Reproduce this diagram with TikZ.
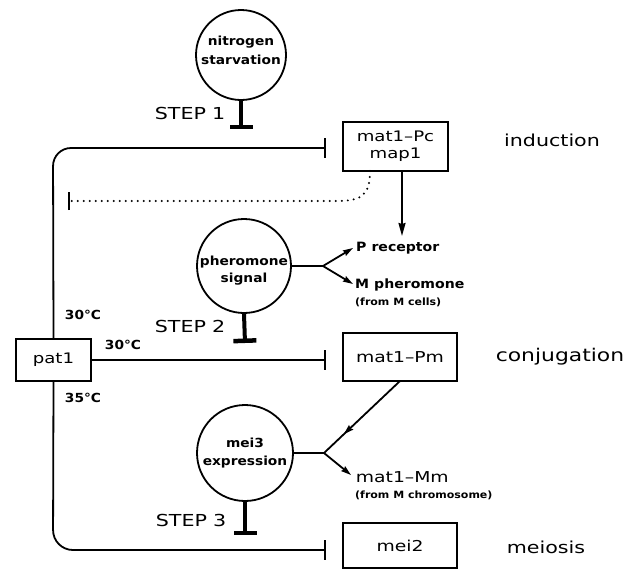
\documentclass[tikz,border=0pt]{standalone}
\usepackage{fontspec}
\setmainfont{DejaVu Sans}
\newfontfamily\rfam{DejaVu Sans}[FakeStretch=1.25]
\newfontfamily\bfam{DejaVu Sans}[FakeStretch=1.1]
\usetikzlibrary{arrows.meta,calc}
\tikzset{
  ln/.style={line width=1.8pt},
  boxn/.style={draw, line width=1.8pt, inner sep=0pt, align=center,
    font=\rfam\fontsize{14.5}{17}\selectfont},
  circn/.style={draw, circle, line width=1.8pt, inner sep=0pt},
  ctext/.style={align=center, inner sep=0pt, font=\bfam\bfseries\fontsize{12.5}{19}\selectfont},
  big/.style={inner sep=0pt, font=\rfam\fontsize{16.5}{18}\selectfont},
  stepl/.style={inner sep=0pt, font=\rfam\fontsize{16.5}{18}\selectfont},
  small/.style={inner sep=0pt, anchor=west, font=\bfam\bfseries\fontsize{12.8}{14}\selectfont},
  tiny/.style={inner sep=0pt, anchor=west, font=\bfam\bfseries\fontsize{10}{11}\selectfont},
  deg/.style={inner sep=0pt, font=\bfam\bfseries\fontsize{12.5}{13}\selectfont},
  inh/.style={ln, -{Bar[width=20pt, line width=1.8pt]}},
  stepbar/.style={line width=4pt, -{Bar[width=23pt, line width=4.5pt]}},
  act/.style={ln, -{Stealth[length=13pt, width=7pt, inset=1pt]}},
  acts/.style={ln, -{Stealth[length=10pt, width=6pt, inset=1pt]}},
}
\begin{document}
\begin{tikzpicture}[x=1pt, y=-1pt]
\useasboundingbox (0,0) rectangle (642,571);

% circles
\node[circn, minimum size=90pt] (ns) at (241,55) {};
\node[ctext] (nst) at (241,50) {nitrogen\\starvation};
\node[circn, minimum size=94pt] (ph) at (244,266) {};
\node[ctext] (pht) at (244,271) {pheromone\\[-2pt]signal};
\node[circn, minimum size=96pt] (m3) at (245,453) {};
\node[ctext] (m3t) at (245,453) {mei3\\[-1pt]expression};

% boxes
\node[boxn, minimum width=105pt, minimum height=49pt] (pc) at (395.5,146.5) {mat1–Pc\\map1};
\node[boxn, minimum width=114pt, minimum height=48pt, font=\rfam\fontsize{15}{17}\selectfont] (pm) at (400,357) {mat1–Pm};
\node[boxn, minimum width=114pt, minimum height=45pt, font=\rfam\fontsize{15}{17}\selectfont] (m2) at (400,545.5) {mei2};
\node[boxn, minimum width=75pt, minimum height=42pt] (pat) at (53.5,360) {pat1};

% right labels
\node[big] (ind) at (552,140) {induction};
\node[big, font=\rfam\fontsize{17.5}{18}\selectfont] (conj) at (560,357) {conjugation};
\node[big] (mei) at (546,547) {meiosis};

% step labels
\node[stepl] (s1) at (190,113) {STEP\hspace{6pt}1};
\node[stepl] (s2) at (190,326) {STEP\hspace{6pt}2};
\node[stepl] (s3) at (191,520) {STEP\hspace{6pt}3};

% degree labels
\node[deg] (d1) at (83,315) {30°C};
\node[deg] (d2) at (123,345) {30°C};
\node[deg] (d3) at (83,398) {35°C};

% side labels
\node[small] (prec) at (356,248) {P\hspace{5pt}receptor};
\node[small] (mph) at (355,285) {M\hspace{5pt}pheromone};
\node[tiny] (mcells) at (355,302) {(from M cells)};
\node[boxn, draw=none, anchor=west, font=\rfam\fontsize{15}{17}\selectfont] (mm) at (355,477) {mat1–Mm};
\node[tiny] (mchr) at (355,495) {(from M chromosome)};

% coordinates
\coordinate (b1) at (241,129);
\coordinate (b2) at (245,343);
\coordinate (b3) at (245,535);
\coordinate (topc) at (53,148);
\coordinate (botc) at (53,550);
\coordinate (topend) at ($(pc.west |- topc)+(-16,0)$);
\coordinate (midend) at ($(pm.west |- pat.east)+(-16,0)$);
\coordinate (botend) at ($(m2.west |- botc)+(-16,0)$);
\coordinate (f2) at (323,266);
\coordinate (f3) at (324,453);
\coordinate (pmout) at (400,381);
\coordinate (dotstart) at (370,171);
\coordinate (dotend) at (69,201);

% step bars
\draw[stepbar] (ns.south) -- (b1);
\draw[stepbar] (ph.south) -- (b2);
\draw[stepbar] (m3.south) -- (b3);

% pat1 connectors
\draw[inh, rounded corners=18pt] (pat.north) -- (topc) -- (topend);
\draw[inh] (pat.east) -- (midend);
\draw[inh, rounded corners=20pt] (pat.south) -- (botc) -- (botend);

% dotted feedback
\draw[line width=2.2pt, line cap=round, dash pattern=on 0pt off 6pt]
  (dotstart) .. controls (370,197) and (360,201) .. (335,201) -- (dotend);
\draw[ln] ([yshift=-9pt]dotend) -- ([yshift=9pt]dotend);

% induction arrow
\draw[act] (pc.south -| 402,0) -- (402,236);

% pheromone fork
\draw[ln] (ph.east) -- (f2);
\draw[acts] (f2) -- ($(prec.west)+(-3,0)$);
\draw[acts] (f2) -- ($(mph.west)+(-2,-1)$);

% mei3 fork
\draw[ln] (m3.east) -- (f3);
\draw[acts] (pmout) -- ($(pmout)!0.74!(f3)$);
\draw[ln] ($(pmout)!0.7!(f3)$) -- (f3);
\draw[acts] (f3) -- (351,475);
\end{tikzpicture}
\end{document}
